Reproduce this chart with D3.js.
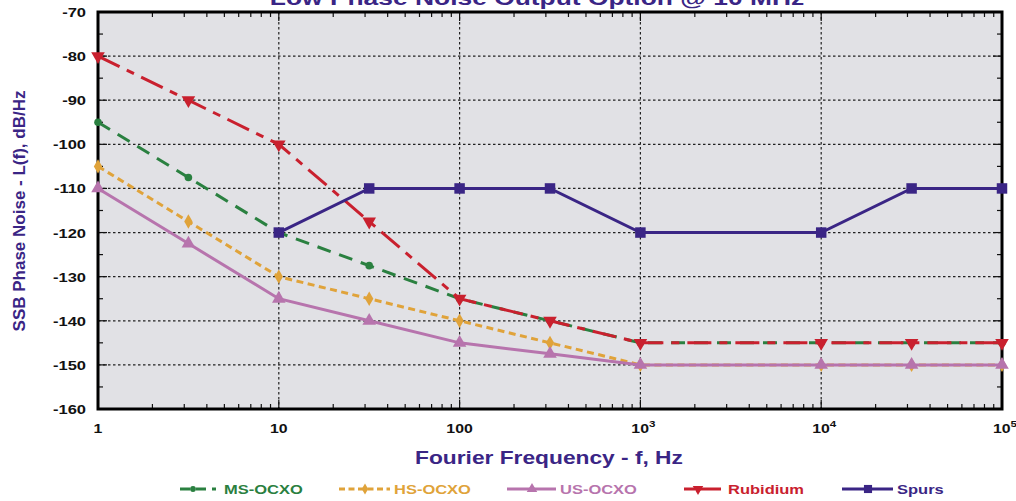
<!DOCTYPE html>
<html><head><meta charset="utf-8">
<script src="https://cdn.jsdelivr.net/npm/d3@7"></script>
<style>body{margin:0;background:#fff}svg{display:block;font-family:Arial,"Liberation Sans",sans-serif}</style>
</head><body><svg id="c" width="1016" height="501"></svg>
<script>
const freqs = [1, 3.1623, 10, 31.623, 100, 316.23, 1000, 10000, 31623, 100000];
const msOcxo = [-95, -107.5, -120, -127.5, -135, -140, -145, -145, -145, -145];
const hsOcxo = [-105, -117.5, -130, -135, -140, -145, -150, -150, -150, -150];
const usOcxo = [-110, -122.5, -135, -140, -145, -147.5, -150, -150, -150, -150];
const rubidium = [-80, -90, -100, -117.5, -135, -140, -145, -145, -145, -145];
const spursFreqs = [10, 31.623, 100, 316.23, 1000, 10000, 31623, 100000];
const spurs = [-120, -110, -110, -110, -120, -120, -110, -110];
const yTicks = [-70, -80, -90, -100, -110, -120, -130, -140, -150, -160];
const xTicks = [1, 10, 100, 1000, 10000, 100000];
const xTickLabels = ["1", "10", "100", "10|3", "10|4", "10|5"];
const seriesNames = ["MS-OCXO", "HS-OCXO", "US-OCXO", "Rubidium", "Spurs"];

const svg = d3.select("#c");
const L = 98, R = 1002, T = 12, B = 409;
const x = d3.scaleLog().domain([1, 1e5]).range([L, R]);
const y = d3.scaleLinear().domain([-160, -70]).range([B, T]);
const navy = "#3a2585";

function stext(parent, px, py, str, size, sx, anchor, color) {
  const gg = parent.append("g").attr("transform", `translate(${px},${py}) scale(${sx},1)`);
  return gg.append("text").attr("x", 0).attr("y", 0).attr("text-anchor", anchor || "start")
    .attr("font-size", size).attr("font-weight", "bold").attr("fill", color || "#111").text(str);
}

svg.append("rect").attr("x", L).attr("y", T).attr("width", R - L).attr("height", B - T).attr("fill", "#e1e1e5");

const g = svg.append("g");
yTicks.slice(1, -1).forEach(v => g.append("line").attr("x1", L).attr("x2", R).attr("y1", y(v)).attr("y2", y(v))
  .attr("stroke", "#222").attr("stroke-width", 1.2).attr("stroke-dasharray", "2.5,2.5"));
xTicks.slice(1, -1).forEach(v => g.append("line").attr("y1", T).attr("y2", B).attr("x1", x(v)).attr("x2", x(v))
  .attr("stroke", "#222").attr("stroke-width", 1.2).attr("stroke-dasharray", "2.5,2.5"));

const minorX = [];
for (let d = 1; d < 1e5; d *= 10) for (let k = 2; k <= 9; k++) minorX.push(d * k);
const tk = (x1, x2, y1, y2) => g.append("line").attr("x1", x1).attr("x2", x2).attr("y1", y1).attr("y2", y2).attr("stroke", "#111").attr("stroke-width", 1.2);
minorX.forEach(v => { tk(x(v), x(v), B, B - 5); tk(x(v), x(v), T, T + 5); });
xTicks.forEach(v => { tk(x(v), x(v), B, B - 9); tk(x(v), x(v), T, T + 9); });
d3.range(-155, -70, 10).forEach(v => { tk(L, L + 5, y(v), y(v)); tk(R, R - 5, y(v), y(v)); });
yTicks.forEach(v => { tk(L, L + 9, y(v), y(v)); tk(R, R - 9, y(v), y(v)); });

svg.append("rect").attr("x", L).attr("y", T).attr("width", R - L).attr("height", B - T).attr("fill", "none")
  .attr("stroke", "#000").attr("stroke-width", 3);

yTicks.forEach(v => stext(svg, 86, y(v) + 5, v, 13, 1.27, "end"));
xTicks.forEach((v, i) => {
  const parts = xTickLabels[i].split("|");
  const t = stext(svg, x(v) + (parts[1] ? 3 : 0), 433, "", 13, 1.22, "middle");
  t.append("tspan").text(parts[0]);
  if (parts[1]) t.append("tspan").attr("dy", -6).attr("font-size", 9.5).text(parts[1]);
});

stext(svg, 537, 5, "Low Phase Noise Output Option @ 10 MHz", 20, 1.32, "middle", navy);
stext(svg, 549, 464, "Fourier Frequency - f, Hz", 18.5, 1.23, "middle", navy);
svg.append("text").attr("transform", "translate(25,211) rotate(-90)").attr("text-anchor", "middle").attr("font-size", 17)
  .attr("font-weight", "bold").attr("fill", navy).text("SSB Phase Noise - L(f), dB/Hz");

const series = [
  {name: seriesNames[0], xs: freqs, ys: msOcxo, color: "#2a8040", dash: "14,9", marker: "circle"},
  {name: seriesNames[1], xs: freqs, ys: hsOcxo, color: "#e0a33a", dash: "7,4.5", marker: "diamond"},
  {name: seriesNames[2], xs: freqs, ys: usOcxo, color: "#b774ad", dash: null, marker: "triangle"},
  {name: seriesNames[3], xs: freqs, ys: rubidium, color: "#c9202e", dash: "24,8,8,8", marker: "tri-down"},
  {name: seriesNames[4], xs: spursFreqs, ys: spurs, color: navy, dash: null, marker: "square"}
];
const symMap = {circle: d3.symbolCircle, diamond: d3.symbolDiamond, triangle: d3.symbolTriangle, "tri-down": d3.symbolTriangle, square: d3.symbolSquare};
const symSize = {circle: 45, diamond: 60, triangle: 80, "tri-down": 80, square: 110};
function marker(sel, s, px, py, k) {
  sel.append("path").attr("d", d3.symbol().type(symMap[s.marker]).size(symSize[s.marker] * (k || 1))())
    .attr("transform", `translate(${px},${py})` + (s.marker === "tri-down" ? " rotate(180)" : ""))
    .attr("fill", s.color);
}
const line = d3.line().x(d => x(d[0])).y(d => y(d[1]));
series.forEach(s => {
  const pts = s.xs.map((f, i) => [f, s.ys[i]]);
  const p = svg.append("path").attr("d", line(pts)).attr("fill", "none").attr("stroke", s.color).attr("stroke-width", 3);
  if (s.dash) p.attr("stroke-dasharray", s.dash);
  pts.forEach(d => marker(svg, s, x(d[0]), y(d[1])));
});

const leg = [
  {x0: 180, x1: 216, m: 193, tx: 224, dash: "10,6"},
  {x0: 339, x1: 390, m: 365, tx: 394, dash: "6,3.5"},
  {x0: 507, x1: 556, m: 532, tx: 560, dash: null},
  {x0: 684, x1: 721, m: 698, tx: 728, dash: "11,3,30,0"},
  {x0: 842, x1: 893, m: 868, tx: 897, dash: null}
];
series.forEach((s, i) => {
  const lg = svg.append("g"), o = leg[i], cy = 489;
  const l = lg.append("line").attr("x1", o.x0).attr("x2", o.x1).attr("y1", cy).attr("y2", cy).attr("stroke", s.color).attr("stroke-width", 3);
  if (o.dash) l.attr("stroke-dasharray", o.dash);
  marker(lg, s, o.m, cy, 0.6);
  stext(lg, o.tx, cy + 5, s.name, 12.5, 1.32, "start", s.color);
});
</script></body></html>
